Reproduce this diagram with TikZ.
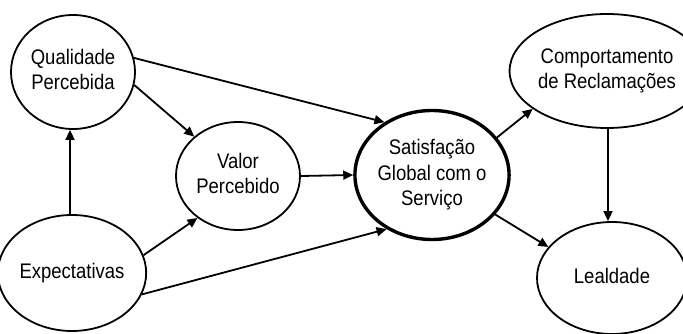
\documentclass[tikz,border=0pt]{standalone}
\usepackage{fontspec}
\setmainfont{Liberation Sans}
\usetikzlibrary{shapes.geometric,arrows.meta}
% labels are set slightly taller than the font's natural shape
\newcommand{\tallabel}[1]{\scalebox{1}[1.14]{\begin{tabular}{@{}c@{}}#1\end{tabular}}}
\begin{document}
\begin{tikzpicture}[x=1pt,y=-1pt,
  construct/.style={ellipse,draw,line width=1.8pt,inner sep=0pt,align=center,
    font=\fontsize{18.5}{22.5}\selectfont},
  keynode/.style={construct,line width=3.4pt},
  link/.style={line width=1.8pt,-{Triangle[length=10pt,width=9pt]}}]
  \useasboundingbox (0,0) rectangle (683,334);
  \fill[white] (0,0) rectangle (683,334);

  % constructs
  \node[construct,minimum width=124pt,minimum height=114pt] (q) at (73,72) {\tallabel{Qualidade\\Percebida}};
  \node[construct,minimum width=122pt,minimum height=116pt] (e) at (72,273) {\tallabel{Expectativas}};
  \node[construct,minimum width=124pt,minimum height=108pt] (v) at (238,176) {\tallabel{Valor\\Percebido}};
  \node[keynode,minimum width=120pt,minimum height=129pt] (s) at (432,175) {\tallabel{Satisfação\\Global com o\\Serviço}};
  \node[construct,minimum width=154pt,minimum height=114pt] (c) at (607,71) {\tallabel{Comportamento\\de Reclamações}};
  \node[construct,minimum width=150pt,minimum height=112pt] (l) at (612,278) {\tallabel{Lealdade}};

  % relations
  \draw[link] (e.north -| 70,0) -- (q.south -| 70,0);
  \draw[link] (q.-12) -- (v.138);
  \draw[link] (q.13) -- (s.132);
  \draw[link] (v.east) -- (s.west);
  \draw[link] (e.14) -- (v.226);
  \draw[link] (e.-17) -- (s.230);
  \draw[link] (s.30) -- (c.207);
  \draw[link] (s.-32) -- (l.154);
  \draw[link] (c.south -| 608,0) -- (l.north -| 608,0);
\end{tikzpicture}
\end{document}
